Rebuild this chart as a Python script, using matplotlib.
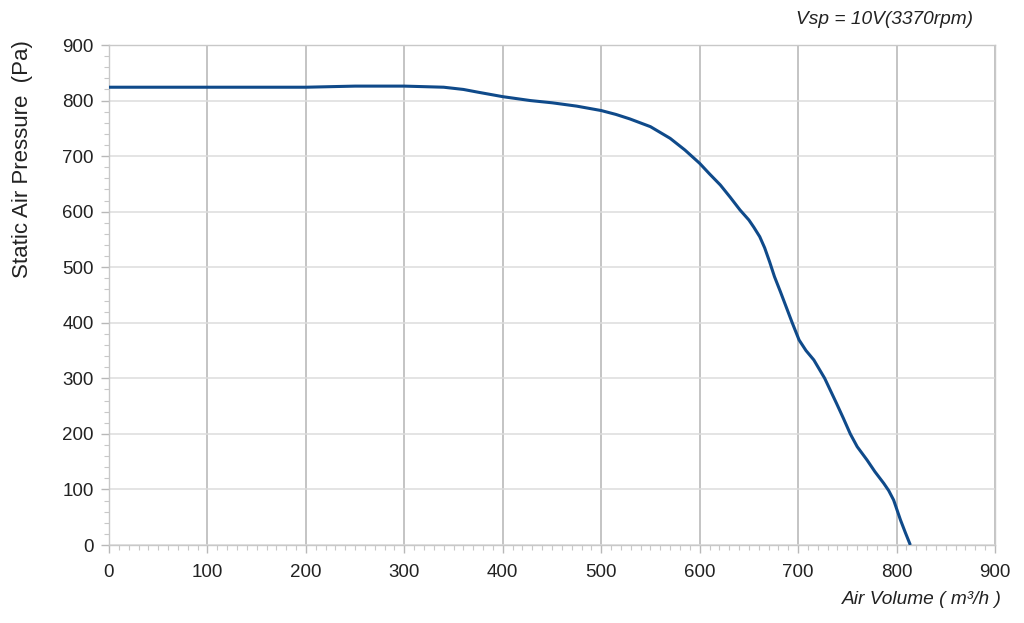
import matplotlib
matplotlib.use("Agg")
import matplotlib.pyplot as plt
from matplotlib.ticker import MultipleLocator

# Data
air_volume = [0, 50, 100, 150, 200, 250, 300, 340, 360, 375, 400, 428, 450, 475, 500,
              515, 529, 550, 570, 585, 600, 610, 621, 631, 641, 650, 655, 661, 666,
              671, 676, 682, 688, 694, 701, 708, 716, 727, 739, 746, 753, 760, 770,
              778, 787, 792, 797, 804, 809, 814]
static_pressure = [824, 824, 824, 824, 824, 826, 826, 824, 820, 815, 807, 800, 796, 790, 782,
                   775, 767, 753, 732, 711, 687, 668, 648, 626, 603, 585, 572, 555, 535,
                   510, 483, 456, 428, 400, 369, 350, 333, 300, 255, 228, 200, 177, 153,
                   132, 111, 98, 81, 45, 22, 0]

x_ticks = [0, 100, 200, 300, 400, 500, 600, 700, 800, 900]
y_ticks = [0, 100, 200, 300, 400, 500, 600, 700, 800, 900]

plt.rcParams['font.family'] = ['Liberation Sans', 'DejaVu Sans']

fig = plt.figure(figsize=(10.24, 6.23), dpi=100)
ax = fig.add_axes([109/1024, 1-545/623, (995-109)/1024, (545-45)/623])

ax.plot(air_volume, static_pressure, color='#0f4a8a', lw=2.2,
        solid_joinstyle='round', solid_capstyle='butt', zorder=3)

ax.set_xlim(0, 900)
ax.set_ylim(0, 900)
ax.set_xticks(x_ticks)
ax.set_yticks(y_ticks)
ax.xaxis.set_minor_locator(MultipleLocator(10))
ax.yaxis.set_minor_locator(MultipleLocator(20))

ax.grid(axis='x', which='major', color='#b4b4b4', lw=1.1)
ax.grid(axis='y', which='major', color='#dcdcdc', lw=1.1)
ax.set_axisbelow(True)

for s in ax.spines.values():
    s.set_color('#c8c8c8')
    s.set_linewidth(1.0)

ax.tick_params(which='major', direction='out', length=6, width=1, color='#b8b8b8',
               labelsize=13.5, labelcolor='#222222')
ax.tick_params(axis='x', which='major', pad=8)
ax.tick_params(axis='y', which='major', pad=5)
ax.tick_params(which='minor', direction='out', length=3.5, width=0.8, color='#c8c8c8')

fig.text(23/1024, 1-40/623, 'Static Air Pressure  (Pa)', rotation=90, ha='center', va='top',
         fontsize=16, color='#222222')

fig.text(973/1024, 1-20/623, 'Vsp = 10V(3370rpm)', ha='right', va='center',
         fontsize=13.8, style='italic', color='#222222')
fig.text(1002/1024, 1-600/623, 'Air Volume ( m³/h )', ha='right', va='center',
         fontsize=13.8, style='italic', color='#222222')

fig.savefig('out.png', dpi=100)
